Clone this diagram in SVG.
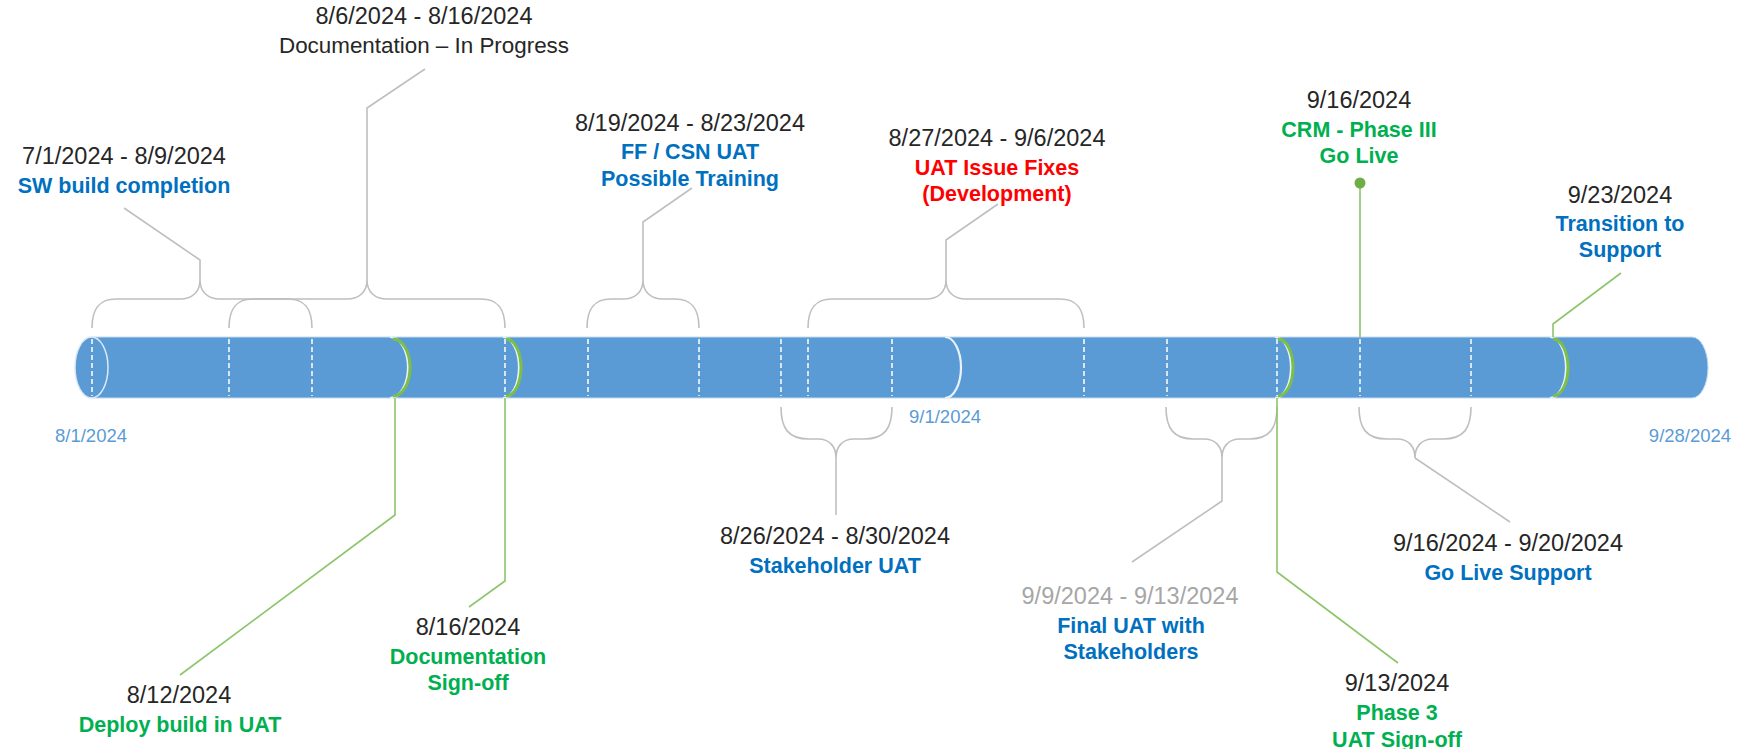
<svg xmlns="http://www.w3.org/2000/svg" width="1754" height="749" viewBox="0 0 1754 749">
<style>
text{font-family:"Liberation Sans",Arial,sans-serif;text-anchor:middle}
.date{font-size:23.5px;fill:#262626}
.desc{font-size:22.4px;fill:#262626}
.b{font-size:21.5px;font-weight:bold}
.blue{fill:#0070c0}.green{fill:#00b050}.red{fill:#ff0000}.gray{fill:#a6a6a6}
.axis{font-size:18.5px;fill:#5b9bd5}
.brace{fill:none;stroke:#bfbfbf;stroke-width:1.6}
.lead{fill:none;stroke:#bfbfbf;stroke-width:1.6}
.glead{fill:none;stroke:#8cc56b;stroke-width:1.6}
.dash{stroke:#ffffff;stroke-width:1.5;stroke-dasharray:5 3}
.warc{fill:none;stroke:#eaf2fa;stroke-width:2.2}
.garc{fill:none;stroke:#7cbf45;stroke-width:3}
</style>
<rect width="1754" height="749" fill="#ffffff"/>
<g id="timeline-bar">
<path d="M92,337 H1692 A16 30.5 0 0 1 1692,398 H92 Z" fill="#5b9bd5" stroke="#c5daf0" stroke-width="1"/>
<ellipse cx="91.5" cy="367.5" rx="16.5" ry="30.5" fill="#5b9bd5" stroke="#dce9f6" stroke-width="1.5"/>
<g>
<line class="dash" x1="92" y1="339" x2="92" y2="396"/>
<line class="dash" x1="229" y1="339" x2="229" y2="396"/>
<line class="dash" x1="312" y1="339" x2="312" y2="396"/>
<line class="dash" x1="505" y1="339" x2="505" y2="396"/>
<line class="dash" x1="588" y1="339" x2="588" y2="396"/>
<line class="dash" x1="699" y1="339" x2="699" y2="396"/>
<line class="dash" x1="781" y1="339" x2="781" y2="396"/>
<line class="dash" x1="808" y1="339" x2="808" y2="396"/>
<line class="dash" x1="892" y1="339" x2="892" y2="396"/>
<line class="dash" x1="1084" y1="339" x2="1084" y2="396"/>
<line class="dash" x1="1167" y1="339" x2="1167" y2="396"/>
<line class="dash" x1="1277" y1="339" x2="1277" y2="396"/>
<line class="dash" x1="1360" y1="339" x2="1360" y2="396"/>
<line class="dash" x1="1471" y1="339" x2="1471" y2="396"/>
</g>
<path class="warc" d="M390,337 A18 30.5 0 0 1 390,398"/>
<path class="garc" d="M393,339 A17 28.5 0 0 1 393,396"/>
<path class="warc" d="M503,337 A16 30.5 0 0 1 503,398"/>
<path class="garc" d="M506,339 A15 28.5 0 0 1 506,396"/>
<path class="warc" d="M945,337 A16 30.5 0 0 1 945,398"/>
<path class="warc" d="M1275,337 A16 30.5 0 0 1 1275,398"/>
<path class="garc" d="M1278,339 A15 28.5 0 0 1 1278,396"/>
<path class="warc" d="M1550,337 A16 30.5 0 0 1 1550,398"/>
<path class="garc" d="M1553,339 A15 28.5 0 0 1 1553,396"/>
</g>
<g id="connectors">
<path class="brace" d="M92,328 C92,310 98,299 116,299 L180,299 C192,299 200,292 200,280 C200,292 208,299 220,299 L288,299 C306,299 312,310 312,328"/>
<path class="brace" d="M229,328 C229,310 235,299 253,299 L347,299 C359,299 367,292 367,280 C367,292 375,299 387,299 L481,299 C499,299 505,310 505,328"/>
<path class="brace" d="M587,328 C587,310 593,299 611,299 L623,299 C635,299 643,292 643,280 C643,292 651,299 663,299 L675,299 C693,299 699,310 699,328"/>
<path class="brace" d="M808,328 C808,310 814,299 832,299 L926,299 C938,299 946,292 946,280 C946,292 954,299 966,299 L1060,299 C1078,299 1084,310 1084,328"/>
<path class="brace" d="M781,407 C781,428 788,439 809,439 L818,439 C830,439 836,447 836,458 C836,447 842,439 854,439 L864,439 C885,439 892,428 892,407"/>
<path class="brace" d="M1166,407 C1166,428 1173,439 1194,439 L1204,439 C1216,439 1222,447 1222,458 C1222,447 1228,439 1240,439 L1249,439 C1270,439 1277,428 1277,407"/>
<path class="brace" d="M1359,407 C1359,428 1366,439 1387,439 L1397,439 C1409,439 1415,447 1415,458 C1415,447 1421,439 1433,439 L1443,439 C1464,439 1471,428 1471,407"/>
<polyline class="lead" points="200,280 200,260 124,208"/>
<polyline class="lead" points="367,280 367,108 425,69"/>
<polyline class="lead" points="643,280 643,222 692,188"/>
<polyline class="lead" points="946,280 946,240 998,204"/>
<polyline class="lead" points="836,458 836,515"/>
<polyline class="lead" points="1222,458 1222,501 1132,562"/>
<polyline class="lead" points="1415,458 1510,522"/>
<polyline class="glead" points="395,398 395,515 180,675"/>
<polyline class="glead" points="505,398 505,581 469,607"/>
<polyline class="glead" points="1277,398 1277,572 1398,663"/>
<polyline class="glead" points="1360,337 1360,184"/>
<polyline class="glead" points="1553,337 1553,324 1621,273"/>
<circle cx="1360" cy="183" r="5.5" fill="#70ad47"/>
</g>
<g id="axis-labels">
<text class="axis" x="91" y="442">8/1/2024</text>
<text class="axis" x="945" y="423">9/1/2024</text>
<text class="axis" x="1690" y="442">9/28/2024</text>
</g>
<g id="doc-in-progress">
<text class="date" x="424" y="24">8/6/2024 - 8/16/2024</text>
<text class="desc" x="424" y="53">Documentation – In Progress</text>
</g>
<g id="sw-build">
<text class="date" x="124" y="164">7/1/2024 - 8/9/2024</text>
<text class="b blue" x="124" y="193">SW build completion</text>
</g>
<g id="ff-csn-uat">
<text class="date" x="690" y="131">8/19/2024 - 8/23/2024</text>
<text class="b blue" x="690" y="159">FF / CSN UAT</text>
<text class="b blue" x="690" y="186">Possible Training</text>
</g>
<g id="uat-fixes">
<text class="date" x="997" y="146">8/27/2024 - 9/6/2024</text>
<text class="b red" x="997" y="175">UAT Issue Fixes</text>
<text class="b red" x="997" y="201">(Development)</text>
</g>
<g id="go-live">
<text class="date" x="1359" y="108">9/16/2024</text>
<text class="b green" x="1359" y="137">CRM - Phase III</text>
<text class="b green" x="1359" y="163">Go Live</text>
</g>
<g id="transition">
<text class="date" x="1620" y="203">9/23/2024</text>
<text class="b blue" x="1620" y="231">Transition to</text>
<text class="b blue" x="1620" y="257">Support</text>
</g>
<g id="deploy-build">
<text class="date" x="179" y="703">8/12/2024</text>
<text class="b green" x="180" y="732">Deploy build in UAT</text>
</g>
<g id="doc-signoff">
<text class="date" x="468" y="635">8/16/2024</text>
<text class="b green" x="468" y="664">Documentation</text>
<text class="b green" x="468" y="690">Sign-off</text>
</g>
<g id="stakeholder-uat">
<text class="date" x="835" y="544">8/26/2024 - 8/30/2024</text>
<text class="b blue" x="835" y="573">Stakeholder UAT</text>
</g>
<g id="final-uat">
<text class="date gray" x="1130" y="604">9/9/2024 - 9/13/2024</text>
<text class="b blue" x="1131" y="633">Final UAT with</text>
<text class="b blue" x="1131" y="659">Stakeholders</text>
</g>
<g id="go-live-support">
<text class="date" x="1508" y="551">9/16/2024 - 9/20/2024</text>
<text class="b blue" x="1508" y="580">Go Live Support</text>
</g>
<g id="phase3-signoff">
<text class="date" x="1397" y="691">9/13/2024</text>
<text class="b green" x="1397" y="720">Phase 3</text>
<text class="b green" x="1397" y="747">UAT Sign-off</text>
</g>
</svg>
